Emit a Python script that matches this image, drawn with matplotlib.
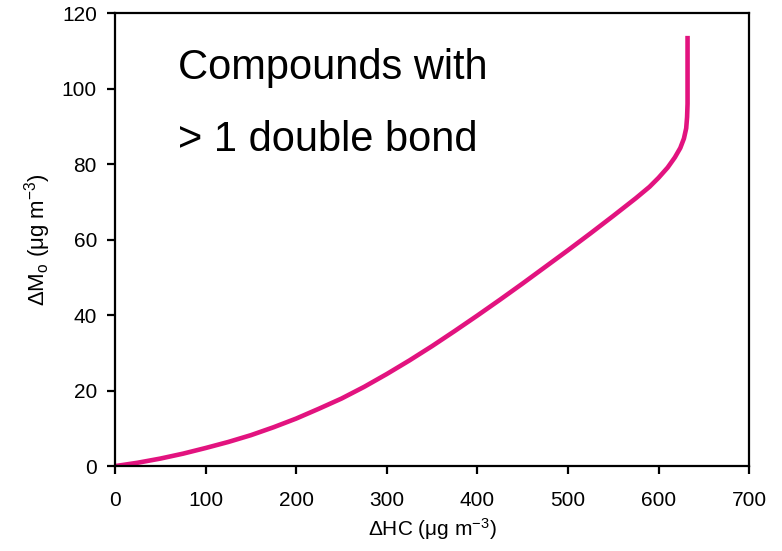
import matplotlib
matplotlib.use("Agg")
import matplotlib.pyplot as plt

plt.rcParams["font.family"] = ["Liberation Sans", "DejaVu Sans"]
plt.rcParams["mathtext.default"] = "regular"

# Organic aerosol growth vs. hydrocarbon reacted
delta_hc = [0, 25, 50, 75, 100, 125, 150, 175, 200, 225, 250, 275, 300,
            325, 350, 375, 400, 425, 450, 475, 500, 525, 550, 575, 590,
            600, 610, 618, 624, 628, 630.5, 631.5, 632, 632]
delta_mo = [0, 0.9, 2.0, 3.3, 4.8, 6.4, 8.2, 10.3, 12.6, 15.2, 17.9, 21.0,
            24.4, 28.0, 31.8, 35.8, 39.9, 44.1, 48.4, 52.8, 57.2, 61.7,
            66.3, 71.0, 74.0, 76.4, 79.1, 81.8, 84.3, 86.8, 89.5, 92.5,
            96.0, 114.0]

x_ticks = [0, 100, 200, 300, 400, 500, 600, 700]
y_ticks = [0, 20, 40, 60, 80, 100, 120]

fig = plt.figure(figsize=(7.82, 5.51), dpi=100)
ax = fig.add_axes([0.147, 0.154, 0.811, 0.822])

ax.plot(delta_hc, delta_mo, color="#E2137F", lw=3.3, solid_capstyle="butt",
        solid_joinstyle="round")

ax.set_xlim(0, 700)
ax.set_ylim(0, 120)
ax.set_xticks(x_ticks)
ax.set_yticks(y_ticks)

for sp in ax.spines.values():
    sp.set_linewidth(1.6)
    sp.set_color("black")

ax.tick_params(direction="out", length=6, width=1.6, labelsize=15,
               colors="black")
ax.tick_params(axis="x", pad=12)
ax.tick_params(axis="y", pad=7)

ax.set_xlabel("ΔHC (μg m$^{-3}$)", fontsize=15, labelpad=4)
ax.set_ylabel("ΔM$_o$ (μg m$^{-3}$)", fontsize=16, labelpad=6)

ax.text(0.1, 0.88, "Compounds with", transform=ax.transAxes,
        fontsize=30, ha="left", va="center")
ax.text(0.1, 0.72, "> 1 double bond", transform=ax.transAxes,
        fontsize=30, ha="left", va="center")

fig.savefig("out.png", dpi=100)
